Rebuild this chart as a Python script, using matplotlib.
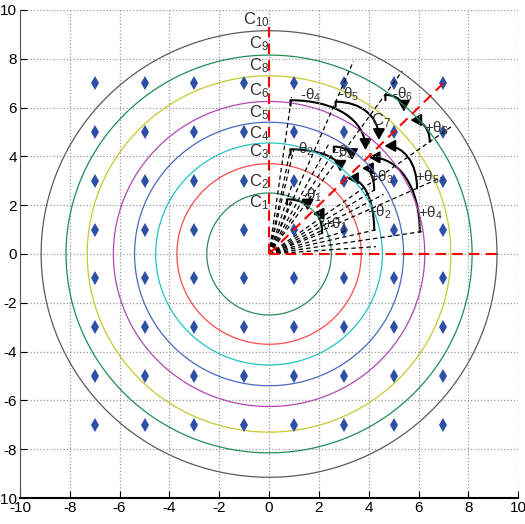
import numpy as np
import matplotlib
matplotlib.use('Agg')
import matplotlib.pyplot as plt
from matplotlib.path import Path
from matplotlib.patches import FancyArrowPatch

plt.rcParams['font.family'] = ['Liberation Sans Narrow', 'Liberation Sans', 'DejaVu Sans']
plt.rcParams['mathtext.fontset'] = 'custom'
plt.rcParams['mathtext.rm'] = 'Liberation Sans'
plt.rcParams['mathtext.it'] = 'Liberation Sans'
plt.rcParams['axes.unicode_minus'] = False

# concentric circles (radius, colour)
circle_radii = [2.5, 3.7, 4.55, 5.4, 6.25, 7.3, 8.15, 9.15]
circle_colors = ['#2e8b5a', '#ff4a4a', '#22c4c4', '#4a68c0', '#b048b0',
                 '#c8c832', '#1e8e55', '#5a5a5a']

# circle labels
circle_names = ['C$_{10}$', 'C$_{9}$', 'C$_{8}$', 'C$_{6}$', 'C$_{5}$',
                'C$_{4}$', 'C$_{3}$', 'C$_{2}$', 'C$_{1}$', 'C$_{7}$']
name_x = [-0.5, -0.4, -0.4, -0.4, -0.4, -0.4, -0.4, -0.4, -0.4, 4.5]
name_y = [9.6, 8.6, 7.7, 6.7, 5.8, 4.95, 4.2, 2.95, 2.1, 5.45]

# grid of points
grid_x = [-7, -5, -3, -1, 1, 3, 5, 7]
grid_y = [-7, -5, -3, -1, 1, 3, 5, 7]

# black dashed rays from the origin
ray_angles = [4, 8.5, 13, 17, 21.8, 24.4, 28, 31.8, 35.5,
              54.5, 58.2, 62, 66.8, 68.2, 72, 77, 78.7, 82]
ray_lengths = [4.3, 6.3, 4.4, 3.2, 2.4, 7.6, 5.2, 5.0, 9.0,
               9.2, 5.1, 5.2, 8.6, 2.4, 3.0, 4.4, 4.4, 6.5]

# curved arrows: -theta (from above) and +theta (from below)
minus_start = [(0.72, 2.24), (0.86, 4.29), (2.6, 4.4), (0.86, 6.3), (2.67, 6.24), (4.67, 6.52)]
minus_tip = [(1.55, 1.78), (2.86, 3.37), (3.33, 3.85), (3.87, 4.26), (4.41, 4.67), (5.41, 5.83)]
plus_start = [(2.13, 0.85), (4.22, 0.98), (4.22, 2.62), (6.05, 0.9), (5.94, 2.69), (6.45, 4.6)]
plus_tip = [(1.75, 1.65), (3.13, 3.1), (3.73, 3.51), (4.0, 3.96), (4.63, 4.43), (5.67, 5.49)]
minus_label = [(1.7, 2.4), (1.4, 4.3), (3.0, 4.15), (1.65, 6.5), (3.2, 6.55), (5.35, 6.55)]
plus_label = [(2.65, 1.2), (4.45, 1.7), (4.5, 3.15), (6.5, 1.65), (6.35, 3.15), (6.7, 5.15)]

fig = plt.figure(figsize=(5.25, 5.24), dpi=100)
ax = fig.add_axes([0.038, 0.0496, 0.949, 0.9314])

t = np.linspace(0, 2 * np.pi, 400)
for r, c in zip(circle_radii, circle_colors):
    ax.plot(r * np.cos(t), r * np.sin(t), color=c, lw=0.9)

gx, gy = np.meshgrid(grid_x, grid_y)
ax.plot(gx.ravel(), gy.ravel(), 'd', color='#2b50a5', markersize=7.5, markeredgewidth=0)

for a, L in zip(ray_angles, ray_lengths):
    a = np.deg2rad(a)
    ax.plot([0, L * np.cos(a)], [0, L * np.sin(a)], color='black', lw=0.9,
            dashes=(3.5, 2.5))

# red dashed axes / bisector
ax.plot([0, 0], [0, 9.3], color='red', lw=1.5, dashes=(5, 3))
ax.plot([0, 9.1], [0, 0], color='red', lw=1.5, dashes=(5, 3))
ax.plot([0, 7.1], [0, 7.1], color='red', lw=1.5, dashes=(5, 3))


def curved_arrow(start, tip, upper, k=0.6):
    s = np.array(start)
    e = np.array(tip)
    corner = np.array([e[0], s[1]]) if upper else np.array([s[0], e[1]])
    p1 = s + k * (corner - s)
    p2 = e + k * (corner - e)
    if upper:
        verts = [(s[0], s[1] - 0.22), s, p1, p2, e]
        codes = [Path.MOVETO, Path.LINETO, Path.CURVE4, Path.CURVE4, Path.CURVE4]
    else:
        verts = [s, p1, p2, e]
        codes = [Path.MOVETO, Path.CURVE4, Path.CURVE4, Path.CURVE4]
    arr = FancyArrowPatch(path=Path(verts, codes),
                          arrowstyle='-|>,head_length=0.45,head_width=0.25',
                          mutation_scale=14, color='black', lw=1.5)
    ax.add_patch(arr)


for i in range(6):
    curved_arrow(minus_start[i], minus_tip[i], True)
    curved_arrow(plus_start[i], plus_tip[i], False)
    ax.text(*minus_label[i], r'-$\mathregular{\theta_{%d}}$' % (i + 1), fontsize=11,
            ha='center', va='center', color='#333333')
    ax.text(*plus_label[i], r'+$\mathregular{\theta_{%d}}$' % (i + 1), fontsize=11,
            ha='center', va='center', color='#333333')

for s, x, y in zip(circle_names, name_x, name_y):
    ax.text(x, y, s, fontsize=12, ha='center', va='center', color='#333333')

ax.set_xlim(-10, 10)
ax.set_ylim(-10, 10)
ax.set_xticks(np.arange(-10, 11, 2))
ax.set_yticks(np.arange(-10, 11, 2))
ax.grid(True, color='#999999', linestyle=':', lw=0.9)
ax.spines['top'].set_visible(False)
ax.spines['right'].set_visible(False)
ax.spines['left'].set_color('#555555')
ax.spines['bottom'].set_linewidth(1.5)
ax.tick_params(direction='in', length=5, labelsize=11, pad=2)

fig.savefig('out.png', dpi=100)
